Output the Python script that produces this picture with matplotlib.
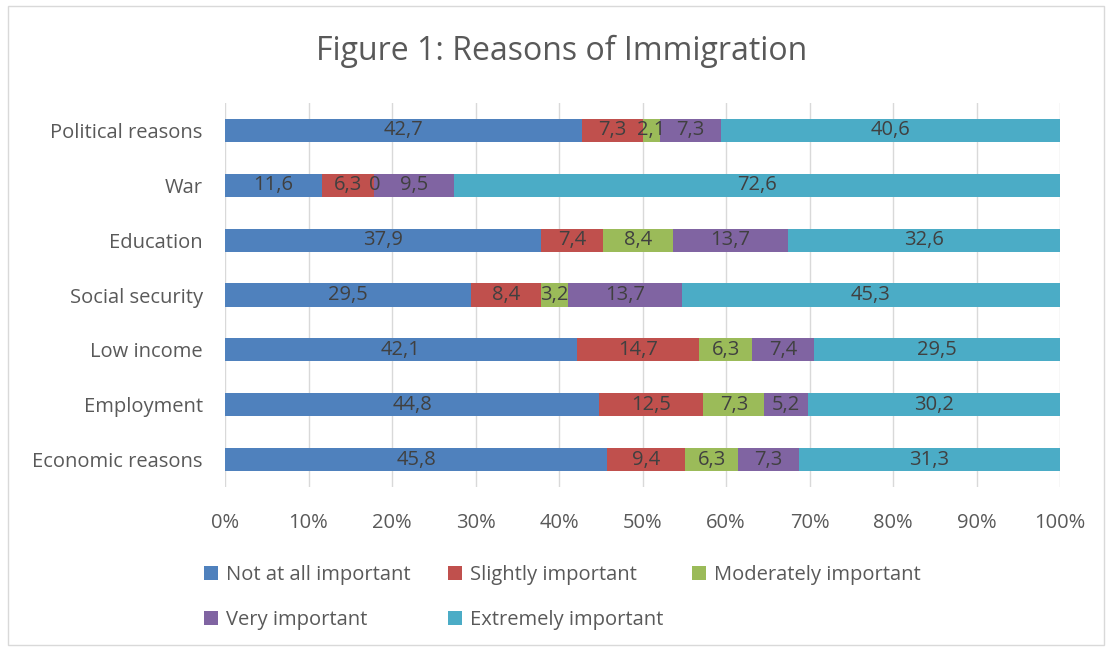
import numpy as np
import matplotlib
matplotlib.use("Agg")
import matplotlib.pyplot as plt
from matplotlib.patches import Rectangle
from matplotlib.ticker import PercentFormatter

plt.rcParams['font.family'] = ['Open Sans', 'DejaVu Sans']

categories = ['Economic reasons', 'Employment', 'Low income', 'Social security',
              'Education', 'War', 'Political reasons']
series = ['Not at all important', 'Slightly important', 'Moderately important',
          'Very important', 'Extremely important']
not_at_all = [45.8, 44.8, 42.1, 29.5, 37.9, 11.6, 42.7]
slightly = [9.4, 12.5, 14.7, 8.4, 7.4, 6.3, 7.3]
moderately = [6.3, 7.3, 6.3, 3.2, 8.4, 0, 2.1]
very = [7.3, 5.2, 7.4, 13.7, 13.7, 9.5, 7.3]
extremely = [31.3, 30.2, 29.5, 45.3, 32.6, 72.6, 40.6]
colors = ['#4F81BD', '#C0504D', '#9BBB59', '#8064A2', '#4BACC6']
txt = '#595959'
fs = 14.5

data = np.array([not_at_all, slightly, moderately, very, extremely])
shares = data / data.sum(axis=0) * 100

fig = plt.figure(figsize=(11.06, 6.48), dpi=100)
fig.patches.append(Rectangle((8 / 1106, 1 - 645 / 648), 1096 / 1106, 639 / 648,
                             transform=fig.transFigure, fill=False,
                             edgecolor='#D9D9D9', linewidth=1))
ax = fig.add_axes([225 / 1106, 1 - 487 / 648, 835 / 1106, 384 / 648])

y = np.arange(len(categories))
left = np.zeros(len(categories))
for i, name in enumerate(series):
    ax.barh(y, shares[i], left=left, height=0.42, color=colors[i], label=name, zorder=2)
    for j in range(len(categories)):
        label = f"{data[i, j]:g}".replace('.', ',')
        ax.text(left[j] + shares[i, j] / 2, y[j], label, ha='center', va='center',
                fontsize=fs, color='#404040', zorder=3)
    left += shares[i]

ax.set_xlim(0, 100)
ax.set_ylim(-0.5, len(categories) - 0.5)
ax.set_xticks(np.arange(0, 101, 10))
ax.xaxis.set_major_formatter(PercentFormatter(decimals=0))
ax.set_yticks(y)
ax.set_yticklabels(categories)
ax.tick_params(axis='both', length=0, labelsize=fs, colors=txt)
ax.tick_params(axis='x', pad=19)
ax.tick_params(axis='y', pad=16)
ax.grid(axis='x', color='#D9D9D9', linewidth=1, zorder=0)
for s in ax.spines.values():
    s.set_visible(False)

fig.text(562 / 1106, 1 - 51 / 648, 'Figure 1: Reasons of Immigration', ha='center',
         va='center', fontsize=23, color=txt)

# legend: three equal-width columns, filled row by row like Excel
handles, labels = ax.get_legend_handles_labels()
for col in range(3):
    idx = [k for k in (col, col + 3) if k < len(series)]
    fig.legend([handles[k] for k in idx], [labels[k] for k in idx],
               loc='upper left', bbox_to_anchor=((198 + 244 * col) / 1106, 1 - 559 / 648),
               frameon=False, fontsize=fs, labelcolor=txt, handlelength=0.7,
               handleheight=0.7, handletextpad=0.4, labelspacing=1.25,
               borderaxespad=0, borderpad=0.3)

fig.savefig('out.png', dpi=100)
